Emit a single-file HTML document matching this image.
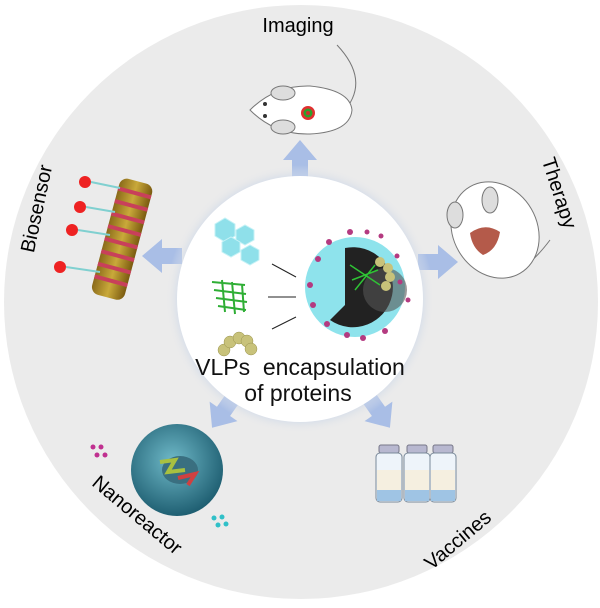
<!DOCTYPE html><html><head><style>body{margin:0;background:#fff}svg{display:block}text{font-family:"Liberation Sans",sans-serif}</style></head><body>
<svg width="600" height="608" viewBox="0 0 600 608" xmlns="http://www.w3.org/2000/svg">
<defs>
<radialGradient id="glow" cx="50%" cy="50%" r="50%"><stop offset="0.85" stop-color="#b8cbe8"/><stop offset="1" stop-color="#e9e9ea" stop-opacity="0"/></radialGradient>
<radialGradient id="nano" cx="45%" cy="40%" r="60%"><stop offset="0" stop-color="#6fb9c8"/><stop offset="1" stop-color="#1f5f72"/></radialGradient>
<linearGradient id="tube" x1="0" x2="1"><stop offset="0" stop-color="#8a6a1a"/><stop offset="0.5" stop-color="#c9a93a"/><stop offset="1" stop-color="#7a5a10"/></linearGradient>
<path id="arr" d="M-8,0 L-8,-20 L-17,-20 L0,-40 L17,-20 L8,-20 L8,0Z"/>
</defs>
<circle cx="301" cy="302" r="297" fill="#ebebeb"/>
<g fill="#a9bee6">
<use href="#arr" transform="translate(300,180)"/>
<use href="#arr" transform="translate(418,262) rotate(90)"/>
<use href="#arr" transform="translate(182,256) rotate(-90)"/>
<use href="#arr" transform="translate(235,395) rotate(215)"/>
<use href="#arr" transform="translate(367,395) rotate(145)"/>
</g>
<circle cx="300" cy="299" r="134" fill="url(#glow)"/>
<circle cx="300" cy="299" r="123" fill="#fff"/>
<g fill="#8fe0ea" stroke="#c6f2f6" stroke-width="1">
<polygon points="215,224 225,218 235,224 235,236 225,242 215,236"/>
<polygon points="236,230 245,225 254,230 254,240 245,245 236,240"/>
<polygon points="222,242 231,237 240,242 240,252 231,257 222,252"/>
<polygon points="241,250 250,245 259,250 259,260 250,265 241,260"/>
</g>
<g stroke="#2fae35" stroke-width="2" fill="none"><path d="M212 282 L245 285 M214 290 L246 294 M216 298 L247 302 M218 306 L246 310 M222 280 L225 312 M232 282 L235 314 M242 284 L244 312"/></g>
<g fill="#c8c27a" stroke="#9a9450" stroke-width="0.5"><circle cx="224" cy="350" r="6"/><circle cx="230" cy="342" r="6"/><circle cx="239" cy="338" r="6"/><circle cx="247" cy="341" r="6"/><circle cx="251" cy="349" r="6"/></g>
<g stroke="#222" stroke-width="1"><line x1="272" y1="264" x2="296" y2="277"/><line x1="268" y1="297" x2="296" y2="297"/><line x1="272" y1="329" x2="296" y2="317"/></g>
<circle cx="355" cy="287" r="50" fill="#8ee3ec"/>
<path d="M345 248 A40 40 0 1 1 330 320 L345 305 Z" fill="#222"/>
<circle cx="385" cy="290" r="22" fill="#555" opacity="0.6"/>
<g stroke="#2fc235" stroke-width="1.5"><path d="M350 265 L380 285 M352 280 L378 270 M355 290 L375 265"/></g>
<g fill="#c8c27a"><circle cx="380" cy="262" r="5"/><circle cx="388" cy="268" r="5"/><circle cx="390" cy="277" r="5"/><circle cx="386" cy="286" r="5"/></g>
<g fill="#b43a80"><circle cx="350" cy="232" r="3"/><circle cx="367" cy="232" r="2.5"/><circle cx="381" cy="236" r="2.5"/><circle cx="329" cy="242" r="3"/><circle cx="318" cy="259" r="3"/><circle cx="310" cy="285" r="3"/><circle cx="313" cy="305" r="3"/><circle cx="327" cy="324" r="3"/><circle cx="347" cy="335" r="3"/><circle cx="363" cy="338" r="3"/><circle cx="385" cy="331" r="3"/><circle cx="400" cy="282" r="2.5"/><circle cx="397" cy="256" r="2.5"/><circle cx="408" cy="300" r="2.5"/></g>
<text x="300" y="375" font-size="23" text-anchor="middle" fill="#111">VLPs&#160;&#160;encapsulation</text>
<text x="298" y="401" font-size="23" text-anchor="middle" fill="#111">of proteins</text>
<text x="298" y="32" font-size="20" text-anchor="middle">Imaging</text>
<text font-size="20" text-anchor="middle" transform="translate(553,195) rotate(72)">Therapy</text>
<text font-size="20" text-anchor="middle" transform="translate(43,210) rotate(-78)">Biosensor</text>
<text font-size="20" text-anchor="middle" transform="translate(133,520) rotate(40)">Nanoreactor</text>
<text font-size="20" text-anchor="middle" transform="translate(462,545) rotate(-40)">Vaccines</text>
<g stroke="#777" fill="#fff"><path d="M337 45 Q370 80 345 110" fill="none"/><path d="M250 110 Q275 85 310 86 Q350 90 352 110 Q350 132 310 134 Q275 135 250 110Z"/><ellipse cx="283" cy="93" rx="12" ry="7" fill="#ddd"/><ellipse cx="283" cy="127" rx="12" ry="7" fill="#ddd"/></g>
<circle cx="265" cy="104" r="2" fill="#333"/><circle cx="265" cy="116" r="2" fill="#333"/>
<circle cx="308" cy="113" r="7" fill="#e03030"/><circle cx="308" cy="113" r="4.5" fill="#2ca02c"/><circle cx="308" cy="113" r="2" fill="#d03030"/>
<g stroke="#777" fill="#fff"><path d="M550 240 Q520 280 500 270" fill="none"/><ellipse cx="495" cy="230" rx="42" ry="50" transform="rotate(-30 495 230)"/><ellipse cx="455" cy="215" rx="8" ry="13" fill="#ddd"/><ellipse cx="490" cy="200" rx="8" ry="13" fill="#ddd"/></g>
<path d="M470 233 Q485 222 500 232 Q497 250 483 255 Q472 248 470 233Z" fill="#b45a4a"/>
<g transform="rotate(15 125 240)"><rect x="105" y="180" width="34" height="120" rx="8" fill="url(#tube)"/>
<g stroke="#c8405a" stroke-width="4"><line x1="105" y1="192" x2="139" y2="192"/><line x1="105" y1="205" x2="139" y2="205"/><line x1="105" y1="218" x2="139" y2="218"/><line x1="105" y1="231" x2="139" y2="231"/><line x1="105" y1="244" x2="139" y2="244"/><line x1="105" y1="257" x2="139" y2="257"/><line x1="105" y1="270" x2="139" y2="270"/><line x1="105" y1="283" x2="139" y2="283"/></g></g>
<g fill="#ee2222"><circle cx="85" cy="182" r="6"/><circle cx="80" cy="207" r="6"/><circle cx="72" cy="230" r="6"/><circle cx="60" cy="267" r="6"/></g>
<g stroke="#80d0d0" stroke-width="2" fill="none"><path d="M91 182 L120 188 M86 207 L115 212 M78 230 L110 235 M66 267 L100 272"/></g>
<circle cx="177" cy="470" r="46" fill="url(#nano)"/>
<ellipse cx="180" cy="470" rx="18" ry="14" fill="#3a6f80"/>
<path d="M160 462 L175 460 L168 472 L185 470" stroke="#a8c040" stroke-width="4" fill="none"/>
<path d="M178 478 L195 474 L188 485" stroke="#d04040" stroke-width="4" fill="none"/>
<g fill="#c03090"><circle cx="93" cy="447" r="2.5"/><circle cx="101" cy="447" r="2.5"/><circle cx="97" cy="455" r="2.5"/><circle cx="105" cy="455" r="2.5"/></g>
<g fill="#30c0c8"><circle cx="214" cy="518" r="2.5"/><circle cx="222" cy="517" r="2.5"/><circle cx="218" cy="525" r="2.5"/><circle cx="226" cy="524" r="2.5"/></g>
<g>
<g id="v"><rect x="379" y="445" width="20" height="8" rx="2" fill="#b8b8d0" stroke="#778"/><rect x="376" y="453" width="26" height="49" rx="4" fill="#eef4fa" stroke="#7a8a9a"/><rect x="377" y="470" width="24" height="22" fill="#f5efe0"/><rect x="377" y="490" width="24" height="11" fill="#9fc4e4"/></g>
<use href="#v" x="28"/><use href="#v" x="54"/>
</g>
</svg></body></html>
